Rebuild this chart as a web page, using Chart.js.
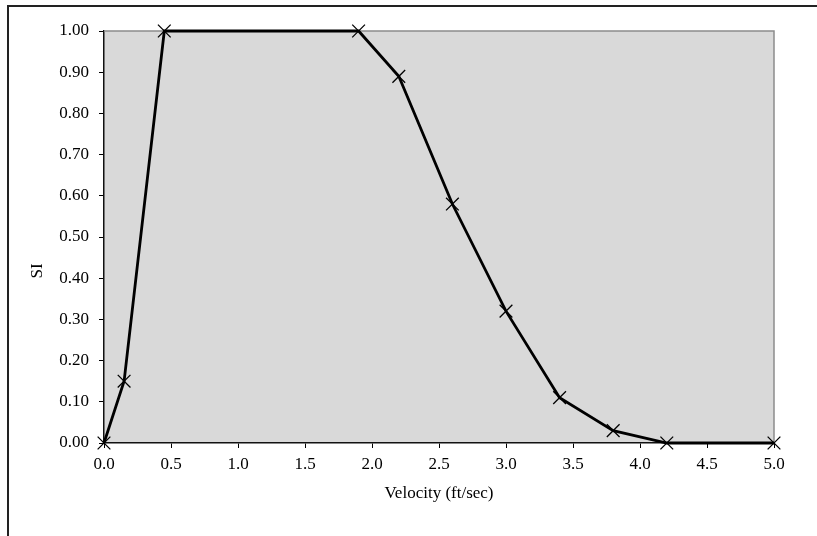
<!DOCTYPE html>
<html>
<head>
<meta charset="utf-8">
<script src="https://cdn.jsdelivr.net/npm/chart.js@4"></script>
<style>
  html, body { margin: 0; padding: 0; background: #fff; }
  #wrap { position: relative; width: 817px; height: 536px; }
</style>
</head>
<body>
<div id="wrap"><canvas id="siChart" width="817" height="536"></canvas></div>
<script>
// SI vs velocity
const velocity = [0, 0.15, 0.45, 1.9, 2.2, 2.6, 3.0, 3.4, 3.8, 4.2, 5.0];
const siValues = [0, 0.15, 1.00, 1.00, 0.89, 0.58, 0.32, 0.11, 0.03, 0.00, 0.00];
const xTicks = [0, 0.5, 1.0, 1.5, 2.0, 2.5, 3.0, 3.5, 4.0, 4.5, 5.0];
const yTicks = [0, 0.1, 0.2, 0.3, 0.4, 0.5, 0.6, 0.7, 0.8, 0.9, 1.0];
const xTitle = 'Velocity (ft/sec)';
const yTitle = 'SI';

const serif = '"Liberation Serif", "Times New Roman", serif';

const plotFrame = {
    id: 'plotFrame',
    beforeDraw(chart) {
        const a = chart.chartArea;
        const c = chart.ctx;
        c.save();
        c.fillStyle = '#d9d9d9';
        c.fillRect(a.left, a.top, a.right - a.left, a.bottom - a.top);
        c.restore();
    },
    beforeDatasetsDraw(chart) {
        const a = chart.chartArea;
        const c = chart.ctx;
        c.save();
        c.strokeStyle = '#8c8c8c';
        c.lineWidth = 1.5;
        c.beginPath();
        c.moveTo(a.left, a.top);
        c.lineTo(a.right, a.top);
        c.lineTo(a.right, a.bottom);
        c.stroke();
        c.restore();
    },
    afterDraw(chart) {
        const c = chart.ctx;
        const a = chart.chartArea;
        c.save();
        // outer chart border (cut off by the window on right / bottom)
        c.strokeStyle = '#222';
        c.lineWidth = 2;
        c.beginPath();
        c.moveTo(8, chart.height + 2);
        c.lineTo(8, 6);
        c.lineTo(chart.width + 2, 6);
        c.stroke();

        c.fillStyle = '#000';
        c.font = '17px ' + serif;
        c.textAlign = 'center';
        c.textBaseline = 'middle';
        c.fillText(xTitle, (a.left + a.right) / 2, 494);
        c.translate(38, 271);
        c.rotate(-Math.PI / 2);
        c.fillText(yTitle, 0, 0);
        c.restore();
    }
};

new Chart(document.getElementById('siChart'), {
    type: 'line',
    data: {
        datasets: [{
            data: velocity.map((v, i) => ({ x: v, y: siValues[i] })),
            borderColor: '#000',
            borderWidth: 2.8,
            pointStyle: 'crossRot',
            pointRadius: 9,
            pointBorderWidth: 1.3,
            pointBorderColor: '#000',
            pointBackgroundColor: '#000',
            tension: 0,
            clip: false
        }]
    },
    options: {
        responsive: false,
        animation: false,
        layout: { padding: { left: 0, right: 43, top: 31, bottom: 0 } },
        plugins: {
            legend: { display: false },
            tooltip: { enabled: false }
        },
        scales: {
            x: {
                type: 'linear',
                min: 0,
                max: 5,
                afterBuildTicks: s => { s.ticks = xTicks.map(v => ({ value: v })); },
                afterFit: s => { s.height = 93; },
                ticks: {
                    autoSkip: false,
                    maxRotation: 0,
                    padding: 6,
                    color: '#000',
                    font: { size: 17, family: serif },
                    callback: v => Number(v).toFixed(1)
                },
                grid: { drawOnChartArea: false, drawTicks: true, tickLength: 5, color: '#000' },
                border: { color: '#111', width: 1.5 }
            },
            y: {
                min: 0,
                max: 1,
                afterBuildTicks: s => { s.ticks = yTicks.map(v => ({ value: v })); },
                afterFit: s => { s.width = 104; },
                ticks: {
                    autoSkip: false,
                    padding: 10,
                    color: '#000',
                    font: { size: 17, family: serif },
                    callback: v => Number(v).toFixed(2)
                },
                grid: { drawOnChartArea: false, drawTicks: true, tickLength: 5, color: '#000' },
                border: { color: '#111', width: 1.5 }
            }
        }
    },
    plugins: [plotFrame]
});
</script>
</body>
</html>
